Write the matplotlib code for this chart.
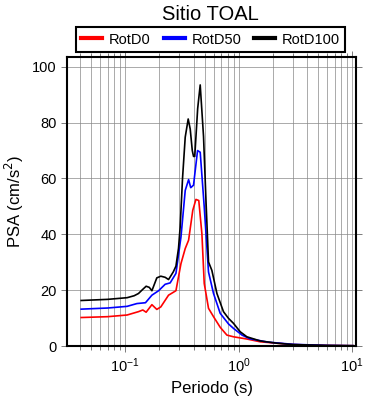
import numpy as np
import matplotlib
matplotlib.use("Agg")
import matplotlib.pyplot as plt

plt.rcParams['font.family'] = ['Liberation Sans', 'DejaVu Sans']

# RotD100
per_d100 = [0.041, 0.07, 0.104, 0.12, 0.131, 0.143, 0.153, 0.163, 0.172, 0.19, 0.206,
            0.225, 0.241, 0.265, 0.28, 0.295, 0.305, 0.32, 0.338, 0.359, 0.374, 0.39,
            0.40, 0.41, 0.435, 0.458, 0.49, 0.515, 0.542, 0.58, 0.643, 0.734, 0.813,
            0.9, 1.03, 1.18, 1.55, 2.17, 3.04, 6.0, 10.2]
psa_d100 = [16.3, 16.7, 17.3, 18.0, 18.8, 20.3, 21.4, 21.0, 19.8, 24.4, 25.0,
            24.6, 23.8, 26.5, 28.6, 35.0, 42.6, 60.0, 74.8, 81.3, 77.7, 70.0,
            67.9, 67.9, 85.0, 93.5, 75.0, 52.0, 30.1, 27.1, 18.8, 12.3, 9.9,
            8.1, 5.1, 3.3, 1.8, 1.0, 0.5, 0.2, 0.1]

# RotD50
per_d50 = [0.041, 0.07, 0.104, 0.127, 0.151, 0.172, 0.197, 0.225, 0.249, 0.28, 0.31,
           0.338, 0.362, 0.378, 0.40, 0.434, 0.458, 0.497, 0.542, 0.60, 0.687, 0.813,
           0.9, 1.07, 1.25, 1.8, 3.0, 6.0, 10.2]
psa_d50 = [13.2, 13.6, 14.2, 15.2, 15.5, 18.2, 19.8, 22.1, 22.6, 26.0, 39.0,
           55.7, 59.6, 56.7, 57.6, 70.0, 69.4, 49.8, 26.5, 18.8, 11.7, 7.9,
           6.3, 3.9, 2.6, 1.4, 0.6, 0.2, 0.1]

# RotD0
per_d0 = [0.041, 0.07, 0.104, 0.131, 0.143, 0.153, 0.172, 0.19, 0.206, 0.241, 0.28,
          0.31, 0.338, 0.362, 0.394, 0.42, 0.445, 0.474, 0.497, 0.542, 0.60, 0.687,
          0.787, 0.9, 1.18, 1.55, 3.0, 6.0, 10.2]
psa_d0 = [10.2, 10.5, 11.1, 12.3, 12.9, 12.1, 14.8, 13.1, 14.0, 18.2, 19.8,
          29.5, 34.9, 37.9, 48.6, 52.5, 52.1, 40.2, 22.4, 13.5, 10.5, 6.7,
          3.9, 3.3, 2.5, 1.5, 0.5, 0.2, 0.1]

fig = plt.figure(figsize=(3.9, 4.0), dpi=100)
ax = fig.add_axes([0.172, 0.135, 0.741, 0.7225])

l0, = ax.plot(per_d0, psa_d0, color='red', lw=1.2, label='RotD0')
l50, = ax.plot(per_d50, psa_d50, color='blue', lw=1.2, label='RotD50')
l100, = ax.plot(per_d100, psa_d100, color='black', lw=1.2, label='RotD100')

ax.set_xscale('log')
ax.set_xlim(0.0308, 10.8)
ax.set_ylim(0, 103.5)
ax.set_yticks([0, 20, 40, 60, 80, 100])
ax.grid(True, which='both', axis='x', color='#888888', lw=0.5)
ax.grid(True, which='major', axis='y', color='#888888', lw=0.5)
ax.tick_params(which='both', direction='out', top=True, right=True,
               labeltop=False, labelright=False, labelsize=10.5,
               color='#666666', width=0.6)
ax.tick_params(which='major', length=4)
ax.tick_params(which='minor', length=3)
for s in ax.spines.values():
    s.set_linewidth(1.5)

ax.set_xlabel('Periodo (s)', fontsize=12)
ax.set_ylabel('PSA (cm/s$^2$)', fontsize=12)
fig.text(0.54, 0.963, 'Sitio TOAL', ha='center', va='center', fontsize=14.5)

leg = fig.legend(handles=[l0, l50, l100], loc='center', bbox_to_anchor=(0.54, 0.901),
                 ncol=3, fontsize=10.5, frameon=True, fancybox=False, framealpha=1,
                 edgecolor='black', handlelength=1.45, handletextpad=0.45,
                 columnspacing=0.9, borderpad=0.35, borderaxespad=0)
leg.get_frame().set_linewidth(1.5)
for h in leg.legend_handles:
    h.set_linewidth(3)

fig.savefig('out.png', dpi=100)
